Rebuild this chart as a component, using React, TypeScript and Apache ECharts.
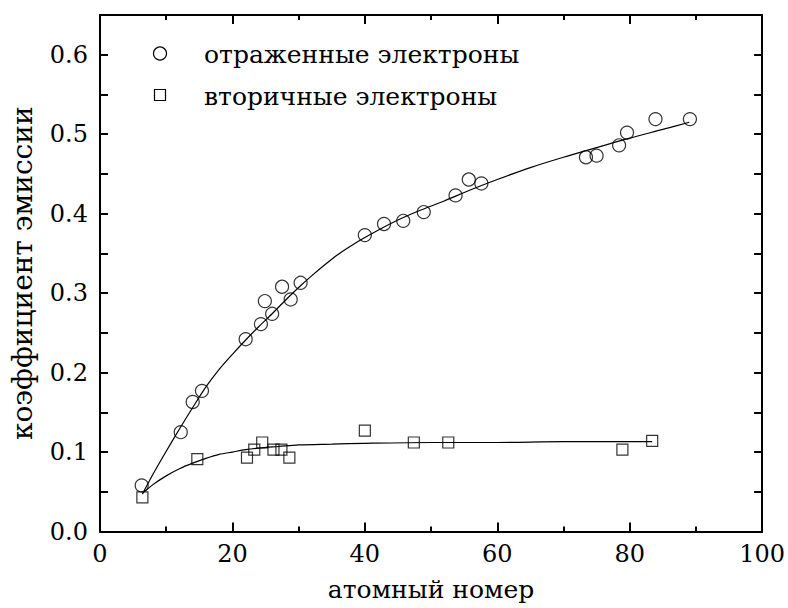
import React, { useEffect, useRef } from "react";
import * as echarts from "echarts";

// Reflected electrons (circles): atomic number, emission coefficient
const reflectedZ = [6.3, 12.2, 14.0, 15.4, 22.0, 24.3, 24.9, 26.0, 27.5, 28.8, 30.3, 40.0, 42.9, 45.8, 48.9, 53.7, 55.7, 57.6, 73.4, 75.0, 78.4, 79.6, 83.9, 89.1];
const reflectedY = [0.058, 0.125, 0.163, 0.177, 0.242, 0.261, 0.290, 0.274, 0.308, 0.292, 0.313, 0.373, 0.387, 0.391, 0.402, 0.423, 0.443, 0.438, 0.471, 0.473, 0.486, 0.502, 0.519, 0.519];

// Secondary electrons (squares)
const secondaryZ = [6.4, 14.7, 22.2, 23.3, 24.5, 26.2, 27.4, 28.6, 40.0, 47.4, 52.6, 78.9, 83.4];
const secondaryY = [0.043, 0.091, 0.093, 0.103, 0.112, 0.103, 0.103, 0.093, 0.127, 0.112, 0.112, 0.103, 0.114];

// Fit curves
const reflectedFitZ = [6.4, 8, 10, 12, 14, 16, 18, 20, 22, 24, 26, 28, 30, 32, 34, 36, 38, 40, 44, 48, 52, 56, 60, 65, 70, 75, 80, 85, 89];
const reflectedFitY = [0.047, 0.072, 0.101, 0.129, 0.156, 0.182, 0.204, 0.223, 0.241, 0.258, 0.274, 0.291, 0.307, 0.322, 0.336, 0.349, 0.360, 0.370, 0.388, 0.403, 0.416, 0.430, 0.443, 0.458, 0.471, 0.483, 0.495, 0.506, 0.515];

const secondaryFitZ = [6.4, 8, 10, 12, 14, 16, 18, 20, 22, 24, 27, 30, 35, 40, 50, 60, 70, 83.4];
const secondaryFitY = [0.048, 0.059, 0.070, 0.079, 0.086, 0.092, 0.097, 0.100, 0.103, 0.105, 0.107, 0.109, 0.110, 0.111, 0.112, 0.112, 0.113, 0.113];

const seriesNames = ["отраженные электроны", "вторичные электроны"];
const xTitle = "атомный номер";
const yTitle = "коэффициент эмиссии";

const xRange = [0, 100];
const yRange = [0, 0.65];

const FONT = "DejaVu Serif";

const zip = (a: number[], b: number[]) => a.map((v, i) => [v, b[i]]);

export default function App() {
  const ref = useRef<HTMLDivElement>(null);
  useEffect(() => {
    if (!ref.current) return;
    const chart = echarts.init(ref.current, undefined, { renderer: "svg" });
    const axisLine = { show: true, onZero: false, lineStyle: { color: "#000", width: 2 } };
    const xCommon = {
      type: "value" as const,
      min: xRange[0],
      max: xRange[1],
      interval: 20,
      axisLine,
      axisTick: { show: true, inside: true, length: 9, lineStyle: { color: "#000", width: 2 } },
      minorTick: { show: true, splitNumber: 2, length: 5, lineStyle: { color: "#000", width: 2 } },
      splitLine: { show: false },
      minorSplitLine: { show: false },
    };
    const yCommon = {
      type: "value" as const,
      min: yRange[0],
      max: yRange[1],
      interval: 0.05,
      axisLine,
      axisTick: { show: true, inside: true, length: 8, lineStyle: { color: "#000", width: 2 } },
      splitLine: { show: false },
    };
    chart.setOption({
      animation: false,
      backgroundColor: "#fff",
      grid: { left: 96, right: 23, top: 15, bottom: 76.5, containLabel: false },
      xAxis: [
        {
          ...xCommon,
          position: "bottom",
          name: xTitle,
          nameLocation: "middle",
          nameGap: 45,
          nameTextStyle: { fontFamily: FONT, fontSize: 25, color: "#000" },
          axisLabel: { fontFamily: FONT, fontSize: 24, color: "#000", margin: 10 },
        },
        { ...xCommon, position: "top", axisLabel: { show: false } },
      ],
      yAxis: [
        {
          ...yCommon,
          position: "left",
          name: yTitle,
          nameLocation: "middle",
          nameGap: 64,
          nameTextStyle: { fontFamily: FONT, fontSize: 28, color: "#000" },
          axisLabel: {
            fontFamily: FONT,
            fontSize: 24,
            color: "#000",
            margin: 12,
            formatter: (v: number) => (Math.round(v * 100) % 10 === 0 ? v.toFixed(1) : ""),
          },
        },
        { ...yCommon, position: "right", axisLabel: { show: false } },
      ],
      series: [
        {
          type: "line",
          data: zip(reflectedFitZ, reflectedFitY),
          showSymbol: false,
          smooth: 0.3,
          lineStyle: { color: "#000", width: 1.2 },
          silent: true,
        },
        {
          type: "line",
          data: zip(secondaryFitZ, secondaryFitY),
          showSymbol: false,
          smooth: 0.3,
          lineStyle: { color: "#000", width: 1.2 },
          silent: true,
        },
        {
          name: seriesNames[0],
          type: "scatter",
          data: zip(reflectedZ, reflectedY),
          symbol: "circle",
          symbolSize: 13,
          itemStyle: { color: "transparent", borderColor: "#000", borderWidth: 1.2 },
        },
        {
          name: seriesNames[1],
          type: "scatter",
          data: zip(secondaryZ, secondaryY),
          symbol: "rect",
          symbolSize: 11,
          itemStyle: { color: "transparent", borderColor: "#000", borderWidth: 1.2 },
        },
      ],
      graphic: [
        { type: "circle", shape: { cx: 160, cy: 53.5, r: 6.5 }, style: { fill: "none", stroke: "#000", lineWidth: 1.2 } },
        { type: "text", x: 204, y: 54, style: { text: seriesNames[0], fontFamily: FONT, fontSize: 25, fill: "#000", verticalAlign: "middle" } },
        { type: "rect", shape: { x: 154.5, y: 89.5, width: 11, height: 11 }, style: { fill: "none", stroke: "#000", lineWidth: 1.2 } },
        { type: "text", x: 204, y: 96, style: { text: seriesNames[1], fontFamily: FONT, fontSize: 25, fill: "#000", verticalAlign: "middle" } },
      ],
    });
    return () => chart.dispose();
  }, []);
  return (
    <div
      ref={ref}
      style={{ position: "fixed", left: 0, top: 0, width: 788, height: 608 }}
    />
  );
}
